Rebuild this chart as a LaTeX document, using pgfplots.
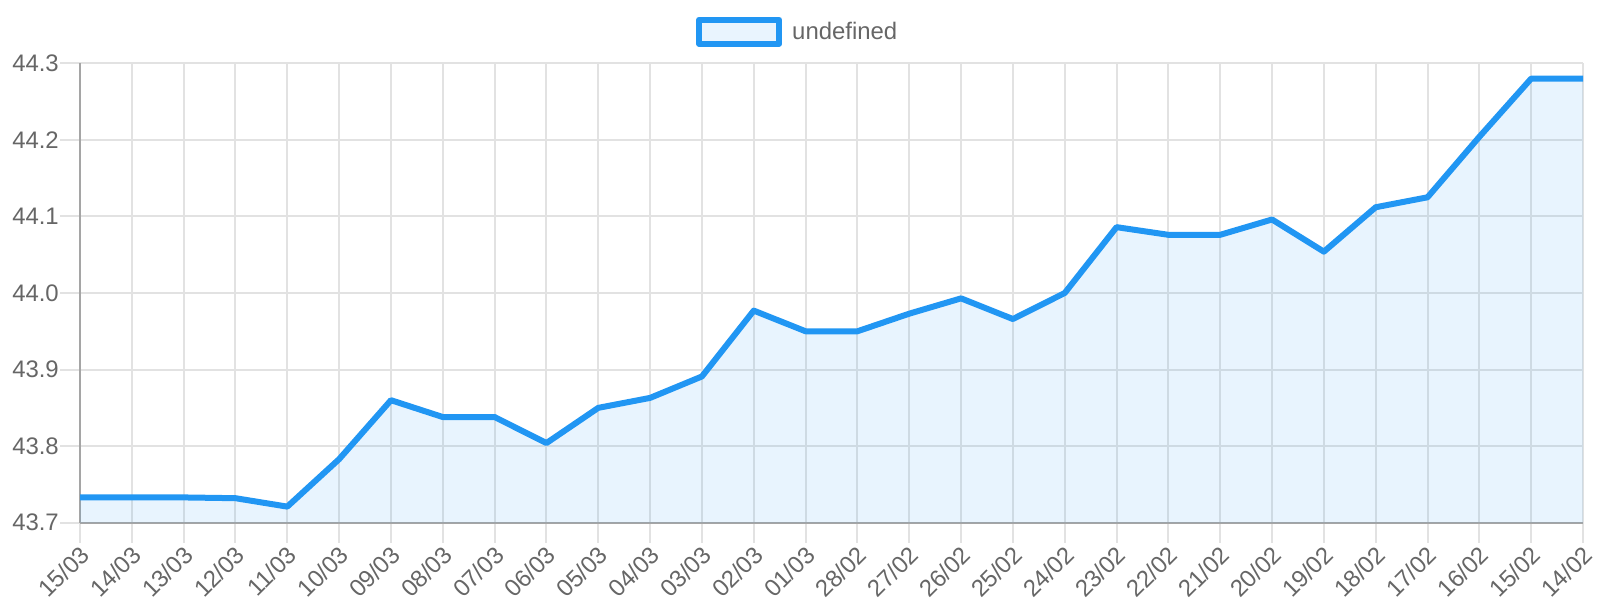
\documentclass[border=0pt]{standalone}
\usepackage{pgfplots}
\pgfplotsset{compat=1.18}
\usepackage{pgfplotstable}
\usepackage{fontspec}
\setmainfont{Liberation Sans}

\definecolor{lineblue}{RGB}{33,150,243}
\definecolor{fillblue}{RGB}{233,244,254}
\definecolor{gridgray}{RGB}{226,226,226}
\definecolor{axisgray}{RGB}{165,165,165}
\definecolor{labelgray}{RGB}{102,102,102}

% daily values, newest first (15/03 back to 14/02)
\pgfplotstableread{
idx value
0  43.733
1  43.733
2  43.733
3  43.732
4  43.721
5  43.783
6  43.860
7  43.838
8  43.838
9  43.804
10 43.850
11 43.863
12 43.891
13 43.977
14 43.950
15 43.950
16 43.973
17 43.993
18 43.966
19 44.000
20 44.086
21 44.076
22 44.076
23 44.096
24 44.054
25 44.112
26 44.125
27 44.204
28 44.280
29 44.280
}\prices

\begin{document}
\begin{tikzpicture}
\begin{axis}[
    at={(80bp,77.3bp)}, anchor=south west,
    scale only axis,
    width=1503bp, height=459.4bp,
    xmin=0, xmax=29,
    ymin=43.7, ymax=44.3,
    axis x line=bottom, axis y line=left,
    axis line style={-, draw=axisgray, line width=2bp},
    xtick={0,...,29},
    xticklabels={15/03,14/03,13/03,12/03,11/03,10/03,09/03,08/03,07/03,06/03,05/03,04/03,03/03,02/03,01/03,28/02,27/02,26/02,25/02,24/02,23/02,22/02,21/02,20/02,19/02,18/02,17/02,16/02,15/02,14/02},
    ytick={43.7,43.8,43.9,44.0,44.1,44.2,44.3},
    yticklabel style={/pgf/number format/fixed, /pgf/number format/fixed zerofill, /pgf/number format/precision=1, inner sep=1bp},
    /pgf/number format/assume math mode=true,
    grid=major,
    major grid style={draw=gridgray, line width=2bp},
    tick align=outside,
    major tick length=20bp,
    tick style={draw=gridgray, line width=2bp},
    every tick label/.append style={font=\fontsize{24}{28}\selectfont, text=labelgray},
    xticklabel style={rotate=45, anchor=north east, inner sep=0bp, xshift=-2bp},
    legend style={at={(0.40985,1.0688)}, anchor=west, draw=none, fill=none,
        font=\fontsize{24}{28}\selectfont, text=labelgray, inner sep=0pt,
        nodes={inner sep=0pt}, column sep=10bp},
    legend image code/.code={
        \draw[line width=6bp, draw=lineblue, fill=fillblue] (0bp,-12bp) rectangle (80bp,12bp);
    },
]
\addplot[draw=none, fill=lineblue, fill opacity=0.1, forget plot]
    table[x=idx, y=value]{\prices} \closedcycle;
\addplot[lineblue, line width=6bp, line join=round]
    table[x=idx, y=value]{\prices};
\legend{undefined}
\end{axis}
\pgfresetboundingbox
\useasboundingbox (0bp,0bp) rectangle (1600bp,600bp);
\end{tikzpicture}
\end{document}
